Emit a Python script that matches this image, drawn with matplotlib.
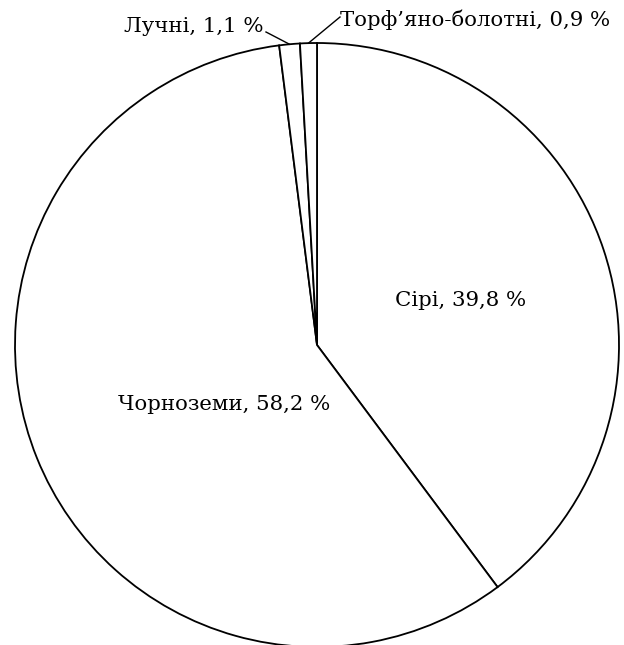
import numpy as np
import matplotlib.pyplot as plt

# soil types, clockwise from the top
names = ["Сірі", "Чорноземи", "Лучні", "Торф\u2019яно-болотні"]
shares = [39.8, 58.2, 1.1, 0.9]

plt.rcParams['font.family'] = ['DejaVu Serif']

fig = plt.figure(figsize=(6.24, 6.45), dpi=100)
ax = fig.add_axes([0, 0, 1, 1])
ax.set_xlim(0, 624)
ax.set_ylim(0, 645)
ax.set_aspect('equal')
ax.axis('off')

cx, cy, r = 317, 300, 302
wedges, _ = ax.pie(shares, startangle=90, counterclock=False, center=(cx, cy), radius=r,
                   colors=['white'] * 4,
                   wedgeprops=dict(edgecolor='black', linewidth=1.3))
ax.set_xlim(0, 624)
ax.set_ylim(0, 645)

def lab(name, v):
    return "%s, %s %%" % (name, str(v).replace('.', ','))

fs = 15.3
# big slices: labels inside
ax.text(461, 645 - 300, lab(names[0], shares[0]), ha='center', va='center', fontsize=fs)
ax.text(224, 645 - 405, lab(names[1], shares[1]), ha='center', va='center', fontsize=fs)

# small slices: labels outside with leader lines
def edge_pt(w):
    a = np.deg2rad((w.theta1 + w.theta2) / 2)
    return cx + r * np.cos(a), cy + r * np.sin(a)

x0, y0 = edge_pt(wedges[2])
ax.plot([x0, 266], [y0, 645 - 32], color='black', lw=1)
ax.text(263, 645 - 26, lab(names[2], shares[2]), ha='right', va='center', fontsize=fs)

x0, y0 = edge_pt(wedges[3])
ax.plot([x0, 340], [y0, 645 - 17], color='black', lw=1)
ax.text(340, 645 - 20, lab(names[3], shares[3]), ha='left', va='center', fontsize=fs)

fig.savefig("out.png", dpi=100, facecolor='white')
